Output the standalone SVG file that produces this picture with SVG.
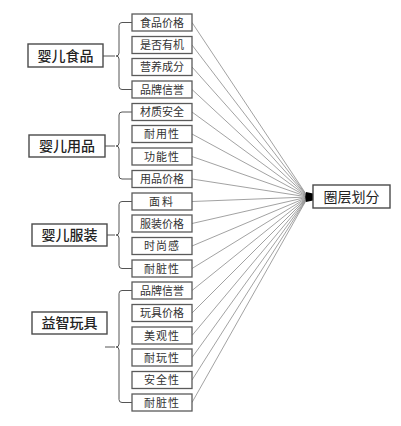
<svg xmlns="http://www.w3.org/2000/svg" width="401" height="426" viewBox="0 0 401 426">
<style>
.bg{fill:#fff}
.sb{fill:#fff;stroke:#5a5a5a;stroke-width:1.3}
.gb{fill:#fff;stroke:#4a4a4a;stroke-width:1.4}
.st{font-family:"Noto Sans CJK SC","Noto Sans CJK JP",sans-serif;font-size:11px;fill:#333;text-anchor:middle}
.gt{font-family:"Noto Sans CJK SC","Noto Sans CJK JP",sans-serif;font-size:14px;font-weight:500;fill:#222;text-anchor:middle}
.ln{fill:none;stroke:#8a8a8a;stroke-width:0.8}
.br{fill:none;stroke:#555;stroke-width:1}
</style>
<rect class="bg" width="401" height="426"/>
<g id="connectors">
<path class="ln" d="M192,22.5L308,197M192,45L308,197M192,67L308,197M192,89.5L308,197M192,112L308,197M192,134L308,197M192,156.5L308,197M192,179L308,197M192,201.5L308,197M192,223.5L308,197M192,246L308,197M192,268.5L308,197M192,290.5L308,197M192,313L308,197M192,335.5L308,197M192,357.5L308,197M192,380L308,197M192,402.5L308,197"/>
<path fill="#000" d="M306,192 L313,193.5 L313,200.5 L306,202 Q304.5,197 306,192 Z"/>
<path class="br" d="M103,56H115M132,22.5H122Q119,22.5 119,25.5V53Q119,56 116,56Q119,56 119,59V86.5Q119,89.5 122,89.5H132"/>
<path class="br" d="M105,146H115M132,112H122Q119,112 119,115V143Q119,146 116,146Q119,146 119,149V176Q119,179 122,179H132"/>
<path class="br" d="M107,235H115M132,201.5H122Q119,201.5 119,204.5V232Q119,235 116,235Q119,235 119,238V265.5Q119,268.5 122,268.5H132"/>
<path class="br" d="M105,347H115M132,290.5H122Q119,290.5 119,293.5V344Q119,347 116,347Q119,347 119,350V399.5Q119,402.5 122,402.5H132"/>
</g>
<g id="g-food"><rect class="gb" x="28" y="44" width="75" height="23"/><text class="gt" x="65.5" y="60.5">婴儿食品</text></g>
<g id="g-goods"><rect class="gb" x="29" y="135" width="76" height="22"/><text class="gt" x="67" y="151">婴儿用品</text></g>
<g id="g-cloth"><rect class="gb" x="32" y="224" width="75" height="22"/><text class="gt" x="69.5" y="240">婴儿服装</text></g>
<g id="g-toy"><rect class="gb" x="32" y="312" width="75" height="22"/><text class="gt" x="69.5" y="328">益智玩具</text></g>
<g id="main"><rect class="gb" x="313" y="185" width="77" height="23"/><text class="gt" x="351.5" y="201.5" style="font-weight:400">圈层划分</text></g>
<g id="n0"><rect class="sb" x="132" y="14" width="60" height="17"/><text class="st" x="162" y="26.5">食品价格</text></g>
<g id="n1"><rect class="sb" x="132" y="36.5" width="60" height="17"/><text class="st" x="162" y="49">是否有机</text></g>
<g id="n2"><rect class="sb" x="132" y="58.5" width="60" height="17"/><text class="st" x="162" y="71">营养成分</text></g>
<g id="n3"><rect class="sb" x="132" y="81" width="60" height="17"/><text class="st" x="162" y="93.5">品牌信誉</text></g>
<g id="n4"><rect class="sb" x="132" y="103.5" width="60" height="17"/><text class="st" x="162" y="116">材质安全</text></g>
<g id="n5"><rect class="sb" x="132" y="125.5" width="60" height="17"/><text class="st" x="162" y="138" letter-spacing="1">耐用性</text></g>
<g id="n6"><rect class="sb" x="132" y="148" width="60" height="17"/><text class="st" x="162" y="160.5" letter-spacing="1">功能性</text></g>
<g id="n7"><rect class="sb" x="132" y="170.5" width="60" height="17"/><text class="st" x="162" y="183">用品价格</text></g>
<g id="n8"><rect class="sb" x="132" y="193" width="60" height="17"/><text class="st" x="162" y="205.5" letter-spacing="2">面料</text></g>
<g id="n9"><rect class="sb" x="132" y="215" width="60" height="17"/><text class="st" x="162" y="227.5">服装价格</text></g>
<g id="n10"><rect class="sb" x="132" y="237.5" width="60" height="17"/><text class="st" x="162" y="250" letter-spacing="1">时尚感</text></g>
<g id="n11"><rect class="sb" x="132" y="260" width="60" height="17"/><text class="st" x="162" y="272.5" letter-spacing="1">耐脏性</text></g>
<g id="n12"><rect class="sb" x="132" y="282" width="60" height="17"/><text class="st" x="162" y="294.5">品牌信誉</text></g>
<g id="n13"><rect class="sb" x="132" y="304.5" width="60" height="17"/><text class="st" x="162" y="317">玩具价格</text></g>
<g id="n14"><rect class="sb" x="132" y="327" width="60" height="17"/><text class="st" x="162" y="339.5" letter-spacing="1">美观性</text></g>
<g id="n15"><rect class="sb" x="132" y="349" width="60" height="17"/><text class="st" x="162" y="361.5" letter-spacing="1">耐玩性</text></g>
<g id="n16"><rect class="sb" x="132" y="371.5" width="60" height="17"/><text class="st" x="162" y="384" letter-spacing="1">安全性</text></g>
<g id="n17"><rect class="sb" x="132" y="394" width="60" height="17"/><text class="st" x="162" y="406.5" letter-spacing="1">耐脏性</text></g>
</svg>
